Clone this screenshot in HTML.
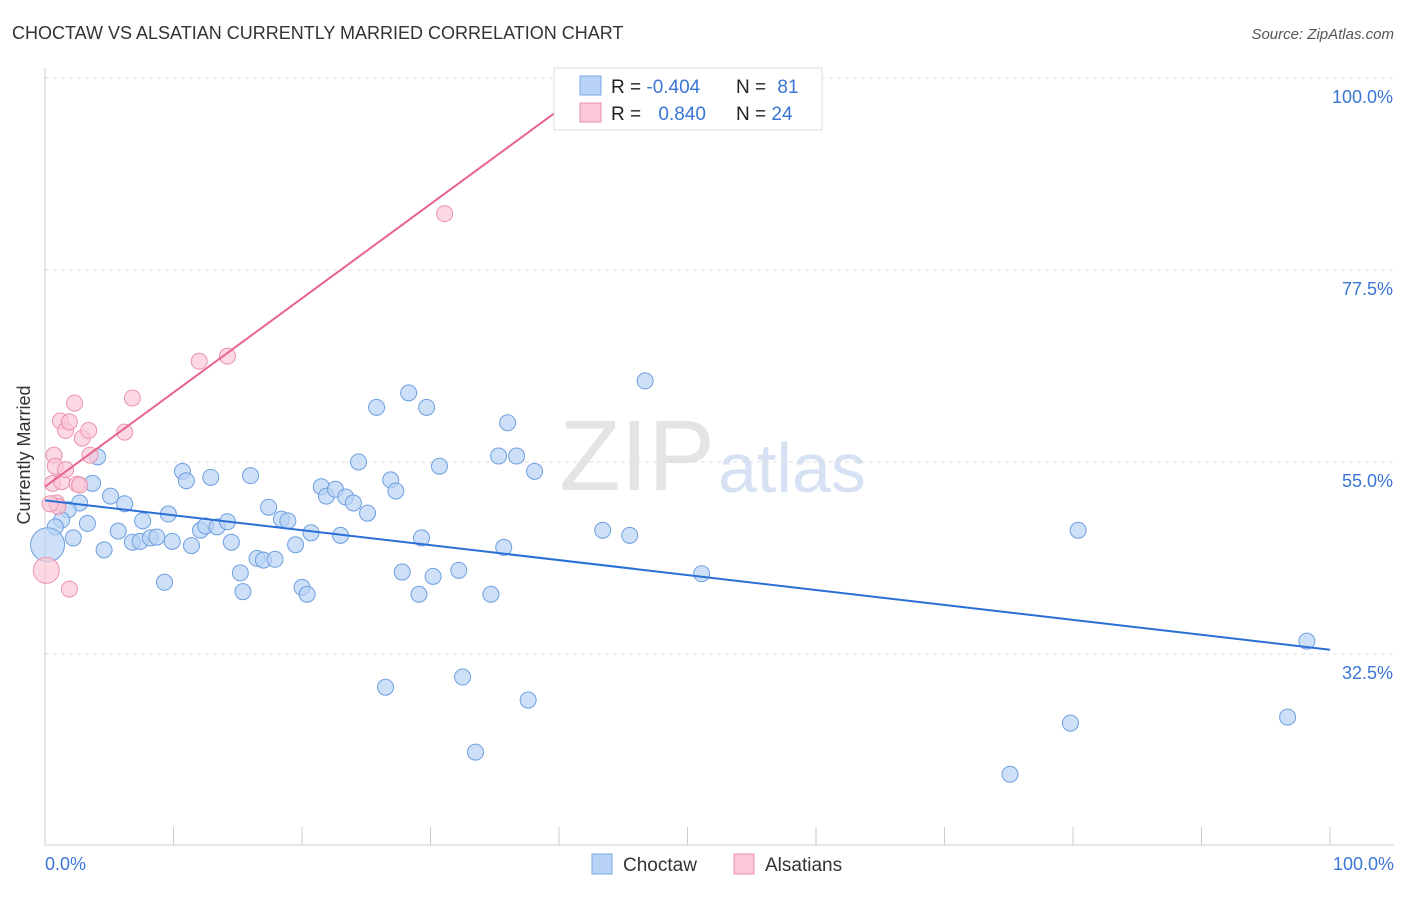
<!DOCTYPE html>
<html><head><meta charset="utf-8"><style>
body{margin:0;background:#fff;font-family:"Liberation Sans",sans-serif}
svg text{font-family:"Liberation Sans",sans-serif}
</style></head><body>
<svg id="c" width="1406" height="892" xmlns="http://www.w3.org/2000/svg">
<text x="12" y="39" font-size="18" fill="#333">CHOCTAW VS ALSATIAN CURRENTLY MARRIED CORRELATION CHART</text>
<text x="1394" y="39" font-size="15" fill="#555" font-style="italic" text-anchor="end">Source: ZipAtlas.com</text>
<text x="715" y="490" font-size="100" fill="#e4e4e4" text-anchor="end" font-family="Liberation Serif">ZIP</text>
<text x="718" y="492" font-size="70" fill="#d6e2f3">atlas</text>
<g id="grid"></g><g id="marks"></g>
<text x="30" y="455" font-size="18" fill="#333" text-anchor="middle" transform="rotate(-90 30 455)">Currently Married</text>
<text x="45" y="870" font-size="18" fill="#3a75d6">0.0%</text>
<text x="1394" y="870" font-size="18" fill="#3a75d6" text-anchor="end">100.0%</text>
<g>
<rect x="554" y="68" width="268" height="62" fill="#fff" stroke="#ddd"/>
<rect x="580" y="76" width="21" height="19" fill="#b8d3f5" stroke="#7aa7e6"/>
<rect x="580" y="103" width="21" height="19" fill="#fbc8d7" stroke="#eb92ae"/>
<text x="611" y="93" font-size="19" fill="#222">R = <tspan fill="#3a75d6">-0.404</tspan></text>
<text x="736" y="93" font-size="19" fill="#222">N = <tspan fill="#3a75d6" dx="6">81</tspan></text>
<text x="611" y="120" font-size="19" fill="#222">R = <tspan fill="#3a75d6" dx="12">0.840</tspan></text>
<text x="736" y="120" font-size="19" fill="#222">N = <tspan fill="#3a75d6">24</tspan></text>
</g>
<g>
<rect x="592" y="854" width="20" height="20" fill="#b8d3f5" stroke="#7aa7e6"/>
<text x="623" y="871" font-size="19" fill="#333">Choctaw</text>
<rect x="734" y="854" width="20" height="20" fill="#fbc8d7" stroke="#eb92ae"/>
<text x="765" y="871" font-size="19" fill="#333">Alsatians</text>
</g>
</svg>
<script>
const yTicks=[100,77.5,55,32.5];
const yTickLabels=["100.0%","77.5%","55.0%","32.5%"];
const xTicks=[0,10,20,30,40,50,60,70,80,90,100];
const choctawX=[4.1,3.7,2.7,1.8,1.3,0.8,3.3,2.2,4.6,5.1,5.7,6.2,6.8,7.4,7.6,8.2,8.7,9.3,9.6,9.9,10.7,11.0,11.4,12.1,12.5,12.9,13.4,14.2,14.5,15.2,15.4,16.0,16.5,17.0,17.4,17.9,18.4,18.9,19.5,20.0,20.4,20.7,21.5,21.9,22.6,23.0,23.4,24.0,24.4,25.1,25.8,26.5,26.9,27.3,27.8,28.3,29.1,29.3,29.7,30.2,30.7,32.2,32.5,33.5,34.7,35.3,35.7,36.0,36.7,37.6,38.1,43.4,45.5,46.7,51.1,75.1,79.8,80.4,96.7,98.2,0.2];
const choctawY=[55.6,52.5,50.2,49.4,48.2,47.4,47.8,46.1,44.7,51.0,46.9,50.1,45.6,45.7,48.1,46.1,46.2,40.9,48.9,45.7,53.9,52.8,45.2,47.0,47.5,53.2,47.4,48.0,45.6,42.0,39.8,53.4,43.7,43.5,49.7,43.6,48.3,48.1,45.3,40.3,39.5,46.7,52.1,51.0,51.8,46.4,50.9,50.2,55.0,49.0,61.4,28.6,52.9,51.6,42.1,63.1,39.5,46.1,61.4,41.6,54.5,42.3,29.8,21.0,39.5,55.7,45.0,59.6,55.7,27.1,53.9,47.0,46.4,64.5,41.9,18.4,24.4,47.0,25.1,34.0,45.3];
const alsX=[0.1,0.7,0.8,0.6,0.9,1.0,1.3,1.2,1.6,1.6,1.9,1.9,2.3,2.5,2.7,2.9,3.4,3.5,6.2,6.8,12.0,14.2,31.1,0.4];
const alsY=[42.3,55.8,54.5,52.5,50.2,49.8,52.7,59.8,54.1,58.7,40.1,59.7,61.9,52.4,52.3,57.8,58.7,55.8,58.5,62.5,66.8,67.4,84.1,50.1];
const choctawTrend=[50.5,33.0];
const alsTrend=[52.1,96.6,40.3];
const X=v=>45+v*12.85, Y=v=>78+(100-v)*8.533;
const NS="http://www.w3.org/2000/svg";
function mk(t,a,p){const e=document.createElementNS(NS,t);for(const k in a)e.setAttribute(k,a[k]);p.appendChild(e);return e;}
const g=document.getElementById('grid'),m=document.getElementById('marks');
yTicks.forEach((t,i)=>{
 const l=mk('line',{x1:45,x2:1394,y1:Y(t),y2:Y(t),stroke:'#ddd','stroke-dasharray':'4,4'},g);
 
 
 const tx=mk('text',{x:1393,y:Y(t)+25,'font-size':18,fill:'#3a75d6','text-anchor':'end'},g);tx.textContent=yTickLabels[i];
 
 
});
const ax=mk('line',{x1:45,x2:1394,y1:845,y2:845,stroke:'#ccc'},g);


const ay=mk('line',{x1:45,x2:45,y1:68,y2:845,stroke:'#ccc'},g);


xTicks.forEach(t=>{const l=mk('line',{x1:X(t),x2:X(t),y1:827,y2:845,stroke:'#ccc'},g);
 
 });
choctawX.forEach((x,i)=>{const big=i===choctawX.length-1;
 const c=mk('circle',{cx:X(x),cy:Y(choctawY[i]),r:big?17:8,fill:'#b8d3f5','fill-opacity':0.7,stroke:'#6d9fe0','stroke-width':1},m);
 
 });
alsX.forEach((x,i)=>{const big=i===0;
 const c=mk('circle',{cx:X(x),cy:Y(alsY[i]),r:big?13:8,fill:'#fbc8d7','fill-opacity':0.7,stroke:'#eb92ae','stroke-width':1},m);
 
 });
const bl=mk('line',{x1:X(0),y1:Y(choctawTrend[0]),x2:X(100),y2:Y(choctawTrend[1]),stroke:'#2a6fd6','stroke-width':2},m);


const pl=mk('line',{x1:X(0),y1:Y(alsTrend[0]),x2:X(alsTrend[2]),y2:Y(alsTrend[1]),stroke:'#e8648f','stroke-width':2},m);


</script>
</body></html>
